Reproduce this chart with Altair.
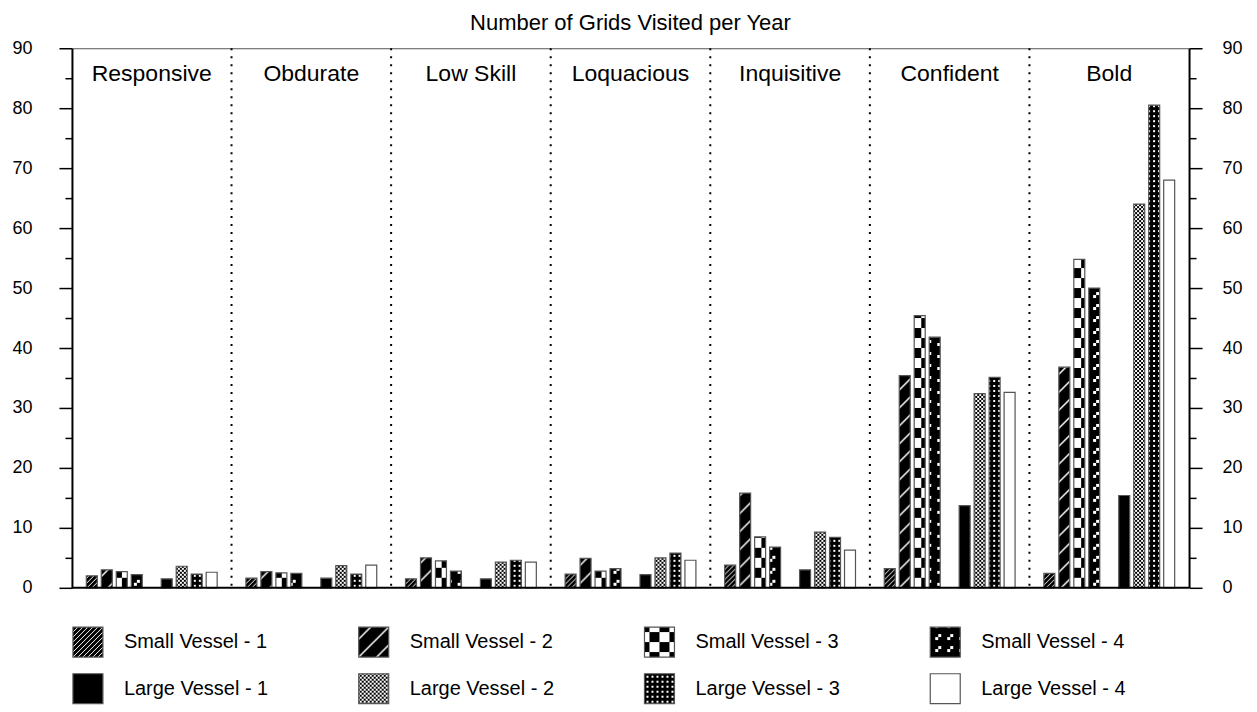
import altair as alt
import pandas as pd
import jinja2
from altair.utils.html import spec_to_html

# ---------------- data ----------------
categories = ["Responsive", "Obdurate", "Low Skill", "Loquacious", "Inquisitive", "Confident", "Bold"]
series_names = ["Small Vessel - 1", "Small Vessel - 2", "Small Vessel - 3", "Small Vessel - 4",
                "Large Vessel - 1", "Large Vessel - 2", "Large Vessel - 3", "Large Vessel - 4"]

small_vessel_1 = [2.0, 1.6, 1.5, 2.3, 3.8, 3.2, 2.4]
small_vessel_2 = [3.0, 2.7, 5.0, 4.9, 15.8, 35.4, 36.8]
small_vessel_3 = [2.7, 2.5, 4.5, 2.8, 8.5, 45.4, 54.8]
small_vessel_4 = [2.2, 2.4, 2.8, 3.2, 6.8, 41.8, 50.0]
large_vessel_1 = [1.5, 1.6, 1.5, 2.2, 3.0, 13.7, 15.4]
large_vessel_2 = [3.6, 3.7, 4.3, 5.0, 9.3, 32.4, 64.0]
large_vessel_3 = [2.3, 2.3, 4.6, 5.8, 8.4, 35.1, 80.5]
large_vessel_4 = [2.6, 3.8, 4.3, 4.6, 6.3, 32.6, 68.0]

y_tick_values = [0, 5, 10, 15, 20, 25, 30, 35, 40, 45, 50, 55, 60, 65, 70, 75, 80, 85, 90]
baseline_value = [0]

all_series = [small_vessel_1, small_vessel_2, small_vessel_3, small_vessel_4,
              large_vessel_1, large_vessel_2, large_vessel_3, large_vessel_4]

rows = []
for name, vals in zip(series_names, all_series):
    for cat, v in zip(categories, vals):
        rows.append({"Category": cat, "Series": name, "Value": v})
df = pd.DataFrame(rows)
sep_df = pd.DataFrame({"Category": categories[1:]})
base_df = pd.DataFrame({"Value": baseline_value})

# ---------------- styles ----------------
FONT = "Liberation Sans"
fills = ["url(#psv1)", "url(#psv2)", "url(#psv3)", "url(#psv4)",
         "#000000", "url(#plv2)", "url(#plv3)", "#ffffff"]
slot_domain = series_names[:4] + ["_gap_"] + series_names[4:]
scale_y = alt.Scale(domain=[0, 90], nice=False)
tick_cond = {"condition": {"test": "datum.value % 10 === 0", "value": 13}, "value": 7}
label_expr = "datum.value % 10 === 0 ? datum.label : ''"

x_axis = alt.Axis(orient="top", title=None, ticks=False, tickSize=0, domain=True,
                  domainColor="#555555", domainWidth=1, labelAngle=0,
                  labelFontSize=23, labelColor="black", labelPadding=-32,
                  labelBaseline="alphabetic", labelOverlap=False, grid=False)

seps = alt.Chart(sep_df).mark_rule(color="black", strokeWidth=2, strokeDash=[2, 6]).encode(
    x=alt.X("Category:N", sort=categories, bandPosition=0, axis=x_axis)
)

bars = alt.Chart(df).mark_bar(stroke="#555555", strokeWidth=1.2).encode(
    x=alt.X("Category:N", sort=categories,
            scale=alt.Scale(paddingInner=0, paddingOuter=0), axis=x_axis),
    xOffset=alt.XOffset("Series:N",
                        scale=alt.Scale(domain=slot_domain, paddingInner=0.267, paddingOuter=0.96)),
    y=alt.Y("Value:Q", scale=scale_y,
            axis=alt.Axis(orient="left", title=None, values=y_tick_values, tickSize=tick_cond,
                          tickColor="black", tickWidth=1.5, domainColor="black", domainWidth=2,
                          labelFontSize=18, labelColor="black", labelPadding=27,
                          labelExpr=label_expr, labelFlush=False, labelOverlap=False, grid=False)),
    fill=alt.Fill("Series:N", scale=alt.Scale(domain=series_names, range=fills),
                  legend=alt.Legend(orient="none", legendX=0, legendY=578, direction="horizontal",
                                    columns=4, title=None, symbolType="square", symbolSize=900,
                                    symbolStrokeColor="#555555", symbolStrokeWidth=1.2,
                                    symbolOpacity=1, labelFontSize=20, labelColor="black",
                                    labelOffset=20, columnPadding=87, rowPadding=11,
                                    gridAlign="all", padding=0, labelLimit=300)),
)

baseline = alt.Chart(base_df).mark_rule(color="black", strokeWidth=2).encode(
    y=alt.Y("Value:Q", scale=scale_y, axis=None)
)

right = alt.Chart(df).mark_point(opacity=0).encode(
    x=alt.X("Category:N", sort=categories, axis=x_axis),
    y=alt.Y("Value:Q", scale=scale_y,
            axis=alt.Axis(orient="right", title=None, values=y_tick_values, tickSize=tick_cond,
                          tickColor="black", tickWidth=1.5, domainColor="black", domainWidth=2,
                          labelFontSize=18, labelColor="black", labelPadding=20,
                          labelExpr=label_expr, labelFlush=False, labelOverlap=False, grid=False)),
)

chart = alt.layer(seps, bars, baseline, right).resolve_axis(y="independent").properties(
    width=1118, height=540,
    title=alt.TitleParams(text="Number of Grids Visited per Year", fontSize=22,
                          fontWeight="normal", color="black", offset=4, anchor="middle"),
    padding={"left": 64, "top": 40, "right": 60, "bottom": 120},
    autosize=alt.AutoSizeParams(type="none"),
).configure(font=FONT).configure_view(stroke=None)

# ---------------- fill patterns (SVG defs) ----------------
DEFS = """
<svg width="0" height="0" style="position:absolute;width:0;height:0;overflow:hidden">
<defs>
<pattern id="psv1" patternUnits="userSpaceOnUse" width="5" height="5">
  <rect width="5" height="5" fill="#000"/>
  <path d="M-1,1 L1,-1 M0,5 L5,0 M4,6 L6,4" stroke="#fff" stroke-width="1"/>
</pattern>
<pattern id="psv2" patternUnits="userSpaceOnUse" width="18" height="18">
  <rect width="18" height="18" fill="#000"/>
  <path d="M-2,2 L2,-2 M0,18 L18,0 M16,20 L20,16" stroke="#fff" stroke-width="1.5"/>
</pattern>
<pattern id="psv3" patternUnits="userSpaceOnUse" width="20" height="20">
  <rect width="20" height="20" fill="#fff"/>
  <rect x="0" y="0" width="10" height="10" fill="#000" shape-rendering="crispEdges"/>
  <rect x="10" y="10" width="10" height="10" fill="#000" shape-rendering="crispEdges"/>
</pattern>
<pattern id="psv4" patternUnits="userSpaceOnUse" width="12" height="12">
  <rect width="12" height="12" fill="#000"/>
  <rect x="2" y="7" width="3" height="3" fill="#fff" shape-rendering="crispEdges"/>
  <rect x="5" y="4" width="3" height="3" fill="#fff" shape-rendering="crispEdges"/>
</pattern>
<pattern id="plv2" patternUnits="userSpaceOnUse" width="4" height="4">
  <rect width="4" height="4" fill="#fff"/>
  <rect x="0" y="0" width="2" height="2" fill="#000" shape-rendering="crispEdges"/>
  <rect x="2" y="2" width="2" height="2" fill="#000" shape-rendering="crispEdges"/>
</pattern>
<pattern id="plv3" patternUnits="userSpaceOnUse" width="5" height="5">
  <rect width="5" height="5" fill="#000"/>
  <rect x="2" y="2" width="2" height="2" fill="#fff" shape-rendering="crispEdges"/>
</pattern>
</defs>
</svg>
"""

EMBED = {"renderer": "svg", "actions": False}
html = spec_to_html(chart.to_dict(), mode="vega-lite",
                    vega_version=alt.VEGA_VERSION,
                    vegalite_version=alt.VEGALITE_VERSION,
                    vegaembed_version=alt.VEGAEMBED_VERSION,
                    embed_options=EMBED)
html = html.replace("<body>", "<body>\n" + DEFS, 1)
page_template = jinja2.Template("{% raw %}" + html + "{% endraw %}")

chart.save("out.html", embed_options=EMBED, template=page_template)
